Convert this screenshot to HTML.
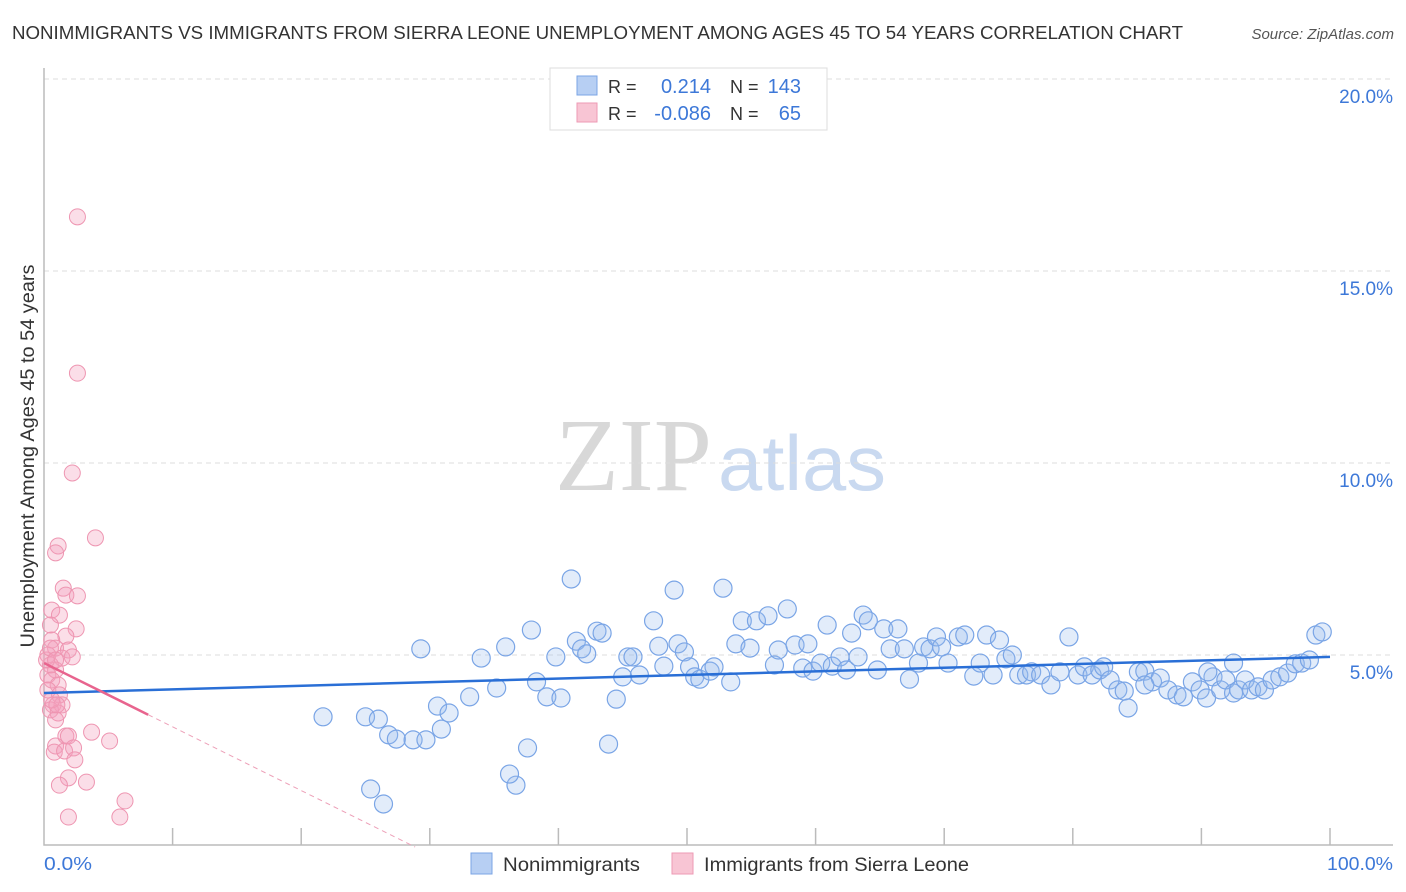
<!DOCTYPE html>
<html><head><meta charset="utf-8"><style>
body{margin:0;background:#fff;font-family:"Liberation Sans",sans-serif;}
#wrap{position:relative;width:1406px;height:892px;overflow:hidden;}
</style></head><body><div id="wrap">
<svg id="svg" width="1406" height="892" xmlns="http://www.w3.org/2000/svg">
<text x="12" y="39" font-size="18.5" fill="#333" textLength="1171" lengthAdjust="spacingAndGlyphs">NONIMMIGRANTS VS IMMIGRANTS FROM SIERRA LEONE UNEMPLOYMENT AMONG AGES 45 TO 54 YEARS CORRELATION CHART</text>
<text x="1394" y="39" font-size="15" fill="#555" font-style="italic" text-anchor="end">Source: ZipAtlas.com</text>
<text x="555" y="490" font-size="104" fill="#d8d8d8" font-family="Liberation Serif,serif" textLength="157" lengthAdjust="spacingAndGlyphs">ZIP</text>
<text x="718" y="490" font-size="78" fill="#c9d9f0" textLength="168" lengthAdjust="spacingAndGlyphs">atlas</text>
<g id="grid"></g><g id="pink"></g><g id="blue"></g><g id="trend"></g>
<text transform="translate(34,456) rotate(-90)" font-size="19" fill="#333" text-anchor="middle" textLength="383" lengthAdjust="spacingAndGlyphs">Unemployment Among Ages 45 to 54 years</text>
<text x="44" y="870" font-size="18" fill="#3d78d8" textLength="48" lengthAdjust="spacingAndGlyphs">0.0%</text>
<text x="1393" y="870" font-size="18" fill="#3d78d8" text-anchor="end" textLength="66" lengthAdjust="spacingAndGlyphs">100.0%</text>
<g>
<rect x="550" y="68" width="277" height="62" fill="#fff" stroke="#ddd"/>
<rect x="577" y="76" width="20" height="19" fill="#b7cff3" stroke="#7ba4e4"/>
<rect x="577" y="103" width="20" height="19" fill="#f8c5d4" stroke="#ee9ab4"/>
<text x="608" y="93" font-size="18" fill="#333">R =</text><text x="711" y="93" font-size="20" fill="#3d78d8" text-anchor="end">0.214</text>
<text x="730" y="93" font-size="18" fill="#333">N =</text><text x="801" y="93" font-size="20" fill="#3d78d8" text-anchor="end">143</text>
<text x="608" y="120" font-size="18" fill="#333">R =</text><text x="711" y="120" font-size="20" fill="#3d78d8" text-anchor="end">-0.086</text>
<text x="730" y="120" font-size="18" fill="#333">N =</text><text x="801" y="120" font-size="20" fill="#3d78d8" text-anchor="end">65</text>
</g>
<g>
<rect x="471" y="853" width="21" height="21" fill="#b7cff3" stroke="#7ba4e4"/>
<text x="503" y="871" font-size="19" fill="#333" textLength="137" lengthAdjust="spacingAndGlyphs">Nonimmigrants</text>
<rect x="672" y="853" width="21" height="21" fill="#f8c5d4" stroke="#ee9ab4"/>
<text x="704" y="871" font-size="19" fill="#333" textLength="265" lengthAdjust="spacingAndGlyphs">Immigrants from Sierra Leone</text>
</g>
</svg></div>
<script>
const yTicks=[5,10,15,20];
const yTickLabels=["5.0%","10.0%","15.0%","20.0%"];
const blueX=[21.7,25.0,26.0,26.8,27.4,25.4,26.4,28.7,29.7,30.6,30.9,31.5,29.3,33.1,34.0,35.2,35.9,36.7,36.2,37.6,37.9,38.3,39.1,39.8,40.2,41.0,41.4,41.8,42.2,43.0,43.4,43.9,44.5,45.0,45.4,45.8,46.3,47.4,47.8,48.2,49.0,49.3,49.8,50.2,50.6,51.0,51.8,52.1,52.8,53.4,53.8,54.3,54.9,55.4,56.3,56.8,57.1,57.8,58.4,59.0,59.4,59.8,60.4,60.9,61.3,61.9,62.4,62.8,63.3,63.7,64.1,64.8,65.3,65.8,66.4,66.9,67.3,68.0,68.4,68.9,69.4,69.8,70.3,71.1,71.6,72.3,72.8,73.3,73.8,74.3,74.8,75.3,75.8,76.4,76.8,77.5,78.3,79.0,79.7,80.4,80.9,81.5,82.1,82.4,82.9,83.5,84.0,84.3,85.1,85.6,86.2,86.8,87.4,88.1,88.6,89.3,89.9,90.4,90.9,91.5,91.9,92.5,92.9,93.4,93.9,94.4,94.9,95.5,96.1,96.7,97.3,97.8,98.4,98.9,99.4,92.5,90.5,85.6];
const blueY=[3.39,3.39,3.33,2.92,2.81,1.51,1.12,2.79,2.79,3.67,3.07,3.49,5.16,3.91,4.92,4.14,5.21,1.61,1.90,2.58,5.65,4.30,3.91,4.95,3.88,6.98,5.36,5.16,5.03,5.62,5.57,2.68,3.85,4.43,4.95,4.95,4.48,5.89,5.23,4.71,6.69,5.29,5.08,4.69,4.43,4.37,4.58,4.69,6.74,4.30,5.29,5.89,5.18,5.89,6.02,4.74,5.13,6.20,5.26,4.66,5.29,4.58,4.79,5.78,4.71,4.95,4.61,5.57,4.95,6.04,5.89,4.61,5.68,5.16,5.68,5.16,4.37,4.79,5.21,5.16,5.47,5.21,4.79,5.47,5.52,4.45,4.79,5.52,4.48,5.39,4.90,5.00,4.48,4.48,4.56,4.48,4.22,4.56,5.47,4.48,4.69,4.48,4.61,4.69,4.35,4.09,4.06,3.62,4.56,4.58,4.30,4.40,4.09,3.96,3.91,4.30,4.09,3.88,4.43,4.09,4.35,4.01,4.09,4.35,4.09,4.17,4.09,4.35,4.43,4.53,4.77,4.79,4.87,5.52,5.60,4.79,4.56,4.22];
const pinkX=[2.6,2.6,2.2,4.0,1.1,0.9,1.5,1.7,2.6,0.6,1.2,0.5,2.5,1.7,0.6,0.9,1.9,0.3,1.4,2.2,0.5,0.9,0.3,0.6,1.1,0.3,1.2,0.7,1.4,0.5,1.1,0.9,3.7,5.1,0.9,1.7,1.9,0.8,1.6,2.3,2.4,1.9,3.3,1.2,6.3,5.9,1.9,0.6,0.2,0.5,0.9,1.0];
const pinkY=[16.41,12.34,9.74,8.05,7.84,7.66,6.74,6.56,6.54,6.17,6.04,5.78,5.68,5.49,5.39,5.18,5.13,5.00,4.92,4.95,4.74,4.61,4.48,4.35,4.22,4.09,3.96,3.70,3.70,3.57,3.49,3.31,2.99,2.76,2.63,2.89,2.89,2.47,2.50,2.58,2.27,1.80,1.69,1.61,1.20,0.78,0.78,3.83,4.87,5.18,4.87,3.70];
const blueTrend=[4.01,4.95];
const pinkTrend=[4.79,-0.166];
const pinkSolidEnd=8.1;
const NS="http://www.w3.org/2000/svg";
const sx=v=>44+v*12.86, sy=v=>847-v*38.4;
function mk(tag,attrs,parent){const e=document.createElementNS(NS,tag);for(const k in attrs)e.setAttribute(k,attrs[k]);parent.appendChild(e);return e;}
const grid=document.getElementById('grid');
yTicks.forEach((t,i)=>{
 const l=mk('line',{x1:44,x2:1393,y1:sy(t),y2:sy(t),stroke:'#ddd','stroke-dasharray':'5,4'},grid);
 
 
 const tx=mk('text',{x:1393,y:sy(t)+24,'font-size':19,fill:'#3d78d8','text-anchor':'end'},grid);
 tx.textContent=yTickLabels[i];
 
 
});
const ax=mk('path',{d:'M44,68V845H1393',fill:'none',stroke:'#bbb','stroke-width':1.5},grid);


for(let i=1;i<=10;i++){const t=mk('line',{x1:sx(i*10),x2:sx(i*10),y1:845,y2:828,stroke:'#bbb','stroke-width':1.5},grid);
 
 }
const pg=document.getElementById('pink');
pinkX.forEach((x,i)=>{const c=mk('circle',{cx:sx(x),cy:sy(pinkY[i]),r:8,fill:'rgba(244,160,188,0.35)',stroke:'#ee95b1','stroke-width':1},pg);
 
 });
const bg=document.getElementById('blue');
blueX.forEach((x,i)=>{const c=mk('circle',{cx:sx(x),cy:sy(blueY[i]),r:9,fill:'rgba(150,185,238,0.28)',stroke:'#7aa5e6','stroke-width':1.2},bg);
 
 });
const tg=document.getElementById('trend');
const bl=mk('line',{x1:sx(0),y1:sy(blueTrend[0]),x2:sx(100),y2:sy(blueTrend[1]),stroke:'#2a6fd6','stroke-width':2.5},tg);


const pz=-pinkTrend[0]/pinkTrend[1];
const ps=mk('line',{x1:sx(0),y1:sy(pinkTrend[0]),x2:sx(pinkSolidEnd),y2:sy(pinkTrend[0]+pinkTrend[1]*pinkSolidEnd),stroke:'#e8648e','stroke-width':2.5},tg);


const pd=mk('line',{x1:sx(pinkSolidEnd),y1:sy(pinkTrend[0]+pinkTrend[1]*pinkSolidEnd),x2:sx(pz),y2:sy(0),stroke:'#eda0b8','stroke-width':1,'stroke-dasharray':'5,4'},tg);


</script></body></html>
